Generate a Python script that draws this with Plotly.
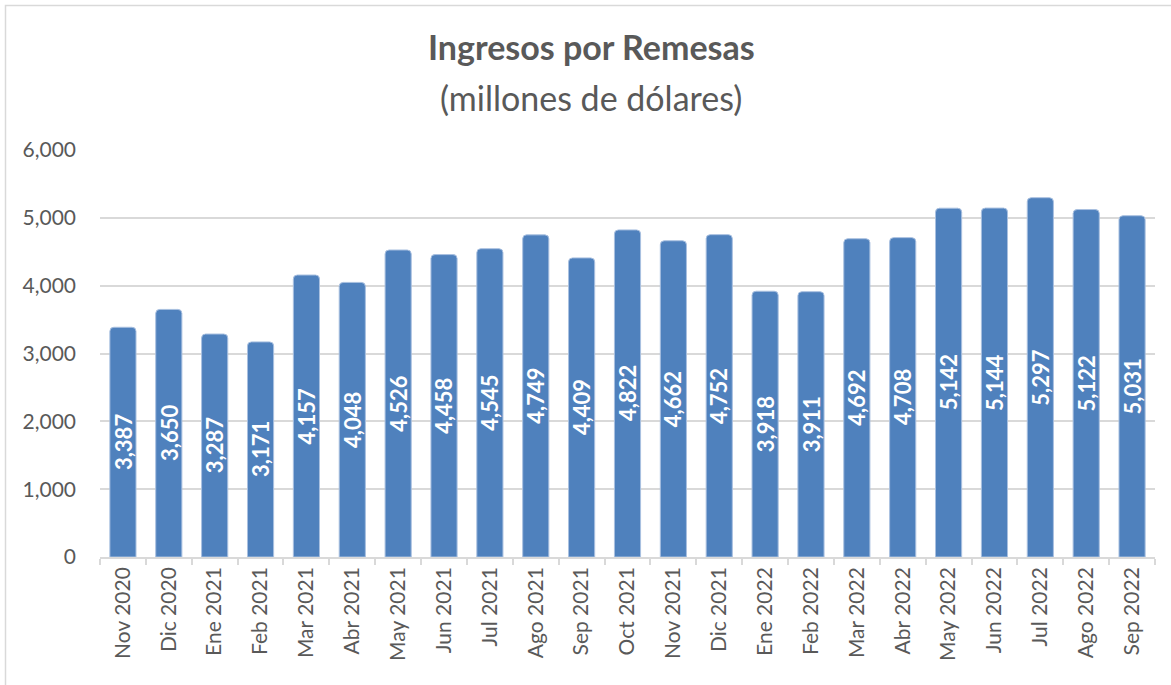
import plotly.graph_objects as go

categories = ["Nov 2020", "Dic 2020", "Ene 2021", "Feb 2021", "Mar 2021", "Abr 2021",
              "May 2021", "Jun 2021", "Jul 2021", "Ago 2021", "Sep 2021", "Oct 2021",
              "Nov 2021", "Dic 2021", "Ene 2022", "Feb 2022", "Mar 2022", "Abr 2022",
              "May 2022", "Jun 2022", "Jul 2022", "Ago 2022", "Sep 2022"]
remesas = [3387, 3650, 3287, 3171, 4157, 4048, 4526, 4458, 4545, 4749, 4409, 4822,
           4662, 4752, 3918, 3911, 4692, 4708, 5142, 5144, 5297, 5122, 5031]
y_ticks = [0, 1000, 2000, 3000, 4000, 5000, 6000]

TEXT = "#595959"
GRID = "#D9D9D9"
FONT = "Lato"

fig = go.Figure(go.Bar(
    x=categories,
    y=remesas,
    marker=dict(color="#4F81BD", line=dict(color="#A9C0E0", width=1), cornerradius=4),
    hoverinfo="x+y",
))

# value labels centred inside each bar, rotated
value_labels = [
    dict(x=c, y=v / 2, xref="x", yref="y", text=f"<b>{v:,}</b>", textangle=-90,
         showarrow=False, xanchor="center", yanchor="middle",
         font=dict(family=FONT, size=22, color="white"))
    for c, v in zip(categories, remesas)
]

title_x = (591 - 100) / 1055
fig.update_layout(
    width=1171, height=685,
    margin=dict(l=100, r=16, t=150, b=128),
    paper_bgcolor="white", plot_bgcolor="white",
    bargap=0.43,
    showlegend=False,
    font=dict(family=FONT, color=TEXT),
    annotations=[
        dict(text="<b>Ingresos por Remesas</b>", xref="paper", yref="paper",
             x=title_x, y=(557 - 47) / 407, xanchor="center", yanchor="middle",
             showarrow=False, font=dict(family=FONT, size=34, color=TEXT)),
        dict(text="(millones de dólares)", xref="paper", yref="paper",
             x=title_x, y=(557 - 97) / 407, xanchor="center", yanchor="middle",
             showarrow=False, font=dict(family=FONT, size=34, color=TEXT)),
    ] + value_labels,
    shapes=[
        dict(type="rect", xref="paper", yref="paper",
             x0=(5.5 - 100) / 1055, x1=(1200 - 100) / 1055,
             y0=(557 - 720) / 407, y1=(557 - 5.5) / 407,
             line=dict(color=GRID, width=1.5), fillcolor="rgba(0,0,0,0)", layer="below"),
    ],
)

fig.update_xaxes(
    type="category",
    tickangle=-90,
    tickfont=dict(family=FONT, size=21, color=TEXT),
    showline=True, linecolor=GRID, linewidth=1.5,
    ticks="outside", tickson="boundaries", ticklen=6, tickcolor=GRID, tickwidth=1.5,
    showgrid=False,
)
fig.update_yaxes(
    range=[0, 6000],
    tickvals=y_ticks,
    tickformat=",",
    tickfont=dict(family=FONT, size=21, color=TEXT),
    showgrid=True, gridcolor=GRID, gridwidth=1.5,
    zeroline=False, showline=False,
    ticks="", ticklabelstandoff=23,
)

fig.write_html("out.html", config={"displayModeBar": False},
               post_script="document.body.style.margin='0';")
